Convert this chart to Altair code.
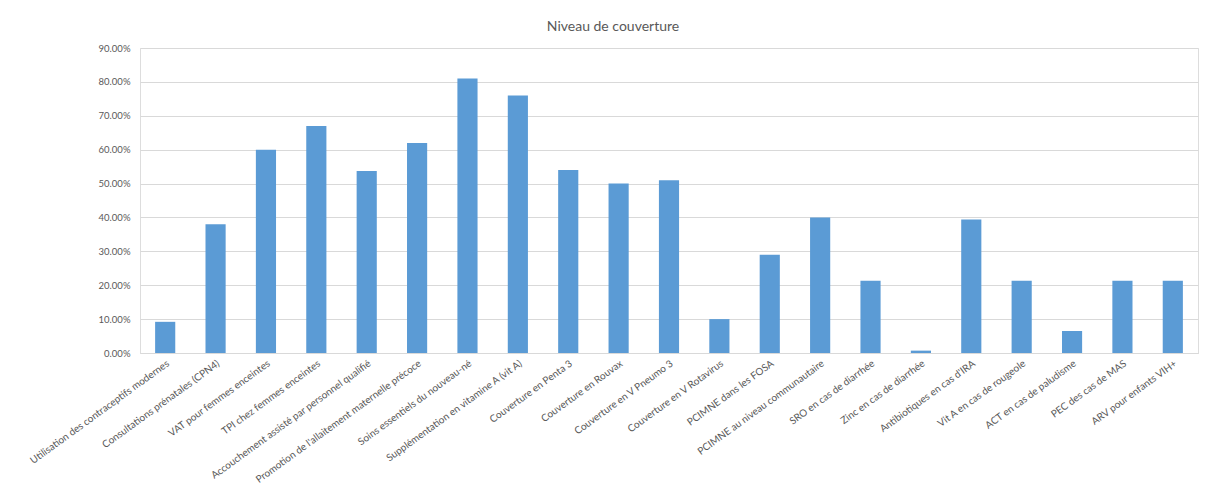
import altair as alt
import pandas as pd

categories = [
    "Utilisation des contraceptifs modernes",
    "Consultations prénatales (CPN4)",
    "VAT pour femmes enceintes",
    "TPI chez femmes enceintes",
    "Accouchement assisté par personnel qualifié",
    "Promotion de l'allaitement maternelle précoce",
    "Soins essentiels du nouveau-né",
    "Supplémentation en vitamine A (vit A)",
    "Couverture en Penta 3",
    "Couverture en Rouvax",
    "Couverture en V Pneumo 3",
    "Couverture en V Rotavirus",
    "PCIMNE dans les FOSA",
    "PCIMNE au niveau communautaire",
    "SRO en cas de diarrhée",
    "Zinc en cas de diarrhée",
    "Antibiotiques en cas d'IRA",
    "Vit A en cas de rougeole",
    "ACT en cas de paludisme",
    "PEC des cas de MAS",
    "ARV pour enfants VIH+",
]
values = [0.092, 0.38, 0.60, 0.67, 0.537, 0.62, 0.81, 0.76, 0.54, 0.50, 0.51,
          0.10, 0.29, 0.40, 0.213, 0.007, 0.394, 0.213, 0.065, 0.213, 0.213]
y_ticks = [0, 0.1, 0.2, 0.3, 0.4, 0.5, 0.6, 0.7, 0.8, 0.9]

df = pd.DataFrame({"cat": categories, "val": values})

chart = alt.Chart(df).mark_bar(color="#5B9BD5").encode(
    x=alt.X("cat:N", sort=categories, title=None,
            scale=alt.Scale(paddingInner=0.6, paddingOuter=0.3),
            axis=alt.Axis(labelAngle=-36, labelFont="Lato", labelFontSize=10,
                          labelColor="#595959", ticks=False, domainColor="#D9D9D9",
                          labelPadding=5, labelLimit=400)),
    y=alt.Y("val:Q", title=None,
            scale=alt.Scale(domain=[0, 0.9], nice=False),
            axis=alt.Axis(values=y_ticks, format=".2%", labelFont="Lato",
                          labelFontSize=9.5, labelColor="#595959", ticks=False,
                          domain=False, gridColor="#D9D9D9", labelPadding=10)),
).properties(
    width=1058,
    height=305,
    title=alt.TitleParams("Niveau de couverture", font="Lato", fontSize=14,
                          fontWeight="normal", color="#595959", anchor="middle",
                          offset=9, dx=-56),
    autosize=alt.AutoSizeParams(type="none"),
    padding={"left": 140, "top": 48, "right": 8, "bottom": 139},
).configure_view(stroke=None).configure(background="white")

chart.save("out.html", embed_options={"renderer": "svg", "actions": False})
